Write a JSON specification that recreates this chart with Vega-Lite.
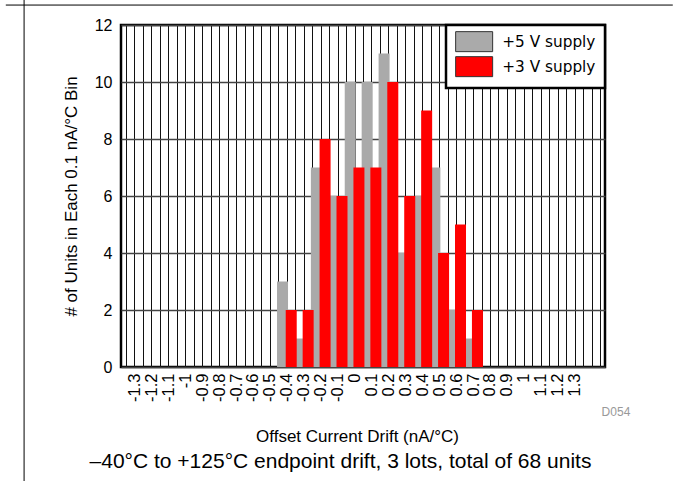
{
  "$schema": "https://vega.github.io/schema/vega-lite/v6.json",
  "autosize": {"type": "none"},
  "padding": {"left": 121, "top": 25, "right": 74, "bottom": 114},
  "width": 484,
  "height": 342,
  "background": "white",
  "config": {
    "font": "Liberation Sans",
    "view": {"stroke": "black", "strokeWidth": 2.5},
    "axis": {"labelFont": "Liberation Sans", "titleFont": "Liberation Sans", "labelColor": "black", "titleColor": "black", "titleFontWeight": "normal"}
  },
  "resolve": {"axis": {"x": "independent", "y": "independent"}},
  "layer": [
    {
      "data": {
        "values": [
          {"drift": -1.3, "supply": "+5 V supply", "count": 0},
          {"drift": -1.2, "supply": "+5 V supply", "count": 0},
          {"drift": -1.1, "supply": "+5 V supply", "count": 0},
          {"drift": -1.0, "supply": "+5 V supply", "count": 0},
          {"drift": -0.9, "supply": "+5 V supply", "count": 0},
          {"drift": -0.8, "supply": "+5 V supply", "count": 0},
          {"drift": -0.7, "supply": "+5 V supply", "count": 0},
          {"drift": -0.6, "supply": "+5 V supply", "count": 0},
          {"drift": -0.5, "supply": "+5 V supply", "count": 0},
          {"drift": -0.4, "supply": "+5 V supply", "count": 3},
          {"drift": -0.3, "supply": "+5 V supply", "count": 1},
          {"drift": -0.2, "supply": "+5 V supply", "count": 7},
          {"drift": -0.1, "supply": "+5 V supply", "count": 6},
          {"drift": 0.0, "supply": "+5 V supply", "count": 10},
          {"drift": 0.1, "supply": "+5 V supply", "count": 10},
          {"drift": 0.2, "supply": "+5 V supply", "count": 11},
          {"drift": 0.3, "supply": "+5 V supply", "count": 4},
          {"drift": 0.4, "supply": "+5 V supply", "count": 6},
          {"drift": 0.5, "supply": "+5 V supply", "count": 7},
          {"drift": 0.6, "supply": "+5 V supply", "count": 2},
          {"drift": 0.7, "supply": "+5 V supply", "count": 1},
          {"drift": 0.8, "supply": "+5 V supply", "count": 0},
          {"drift": 0.9, "supply": "+5 V supply", "count": 0},
          {"drift": 1.0, "supply": "+5 V supply", "count": 0},
          {"drift": 1.1, "supply": "+5 V supply", "count": 0},
          {"drift": 1.2, "supply": "+5 V supply", "count": 0},
          {"drift": 1.3, "supply": "+5 V supply", "count": 0},
          {"drift": -1.3, "supply": "+3 V supply", "count": 0},
          {"drift": -1.2, "supply": "+3 V supply", "count": 0},
          {"drift": -1.1, "supply": "+3 V supply", "count": 0},
          {"drift": -1.0, "supply": "+3 V supply", "count": 0},
          {"drift": -0.9, "supply": "+3 V supply", "count": 0},
          {"drift": -0.8, "supply": "+3 V supply", "count": 0},
          {"drift": -0.7, "supply": "+3 V supply", "count": 0},
          {"drift": -0.6, "supply": "+3 V supply", "count": 0},
          {"drift": -0.5, "supply": "+3 V supply", "count": 0},
          {"drift": -0.4, "supply": "+3 V supply", "count": 2},
          {"drift": -0.3, "supply": "+3 V supply", "count": 2},
          {"drift": -0.2, "supply": "+3 V supply", "count": 8},
          {"drift": -0.1, "supply": "+3 V supply", "count": 6},
          {"drift": 0.0, "supply": "+3 V supply", "count": 7},
          {"drift": 0.1, "supply": "+3 V supply", "count": 7},
          {"drift": 0.2, "supply": "+3 V supply", "count": 10},
          {"drift": 0.3, "supply": "+3 V supply", "count": 6},
          {"drift": 0.4, "supply": "+3 V supply", "count": 9},
          {"drift": 0.5, "supply": "+3 V supply", "count": 4},
          {"drift": 0.6, "supply": "+3 V supply", "count": 5},
          {"drift": 0.7, "supply": "+3 V supply", "count": 2},
          {"drift": 0.8, "supply": "+3 V supply", "count": 0},
          {"drift": 0.9, "supply": "+3 V supply", "count": 0},
          {"drift": 1.0, "supply": "+3 V supply", "count": 0},
          {"drift": 1.1, "supply": "+3 V supply", "count": 0},
          {"drift": 1.2, "supply": "+3 V supply", "count": 0},
          {"drift": 1.3, "supply": "+3 V supply", "count": 0}
        ]
      },
      "encoding": {
        "x": {
          "field": "drift",
          "type": "quantitative",
          "scale": {"domain": [-1.35, 1.45], "nice": false, "zero": false},
          "axis": {
            "title": "Offset Current Drift (nA/°C)",
            "titleFontSize": 17,
            "titlePadding": 27,
            "titleX": 236,
            "values": [-1.35,-1.3,-1.25,-1.2,-1.15,-1.1,-1.05,-1,-0.95,-0.9,-0.85,-0.8,-0.75,-0.7,-0.65,-0.6,-0.55,-0.5,-0.45,-0.4,-0.35,-0.3,-0.25,-0.2,-0.15,-0.1,-0.05,0,0.05,0.1,0.15,0.2,0.25,0.3,0.35,0.4,0.45,0.5,0.55,0.6,0.65,0.7,0.75,0.8,0.85,0.9,0.95,1,1.05,1.1,1.15,1.2,1.25,1.3,1.35,1.4,1.45],
            "labelExpr": "abs(round(datum.value*20)) % 2 == 0 && abs(datum.value) < 1.36 ? replace(format(datum.value, '.1~f'), '\u2212', '-') : ''",
            "labelAngle": 270,
            "labelFontSize": 16.5,
            "labelPadding": 6,
            "labelOverlap": false,
            "labelFlush": false,
            "ticks": false,
            "domain": false,
            "grid": true,
            "gridColor": "#111111",
            "gridWidth": 1,
            "gridOpacity": 1
          }
        },
        "y": {
          "field": "count",
          "type": "quantitative",
          "scale": {"domain": [0, 12], "nice": false},
          "axis": {
            "title": "# of Units in Each 0.1 nA/°C Bin",
            "titleFontSize": 17,
            "titlePadding": 14,
            "values": [0, 2, 4, 6, 8, 10, 12],
            "labelFontSize": 16,
            "labelPadding": 9,
            "ticks": false,
            "domain": false,
            "grid": true,
            "gridColor": "#444444",
            "gridWidth": 1.6,
            "gridOpacity": 1
          }
        },
        "color": {
          "field": "supply",
          "type": "nominal",
          "scale": {"domain": ["+5 V supply", "+3 V supply"], "range": ["#aaaaaa", "#ff0000"]},
          "legend": {
            "title": null,
            "orient": "top-right",
            "offset": 0,
            "padding": 9,
            "fillColor": "white",
            "strokeColor": "black",
            "symbolType": "M-1.4,-2H6V2H-1.4Z",
            "symbolSize": 100,
            "symbolStrokeColor": "#333333",
            "symbolStrokeWidth": 1,
            "symbolOpacity": 1,
            "labelFontSize": 15.3,
            "labelFont": "DejaVu Sans",
            "labelColor": "black",
            "labelOffset": 32,
            "rowPadding": 0,
            "encode": {"legend": {"update": {"strokeWidth": {"value": 2.5}}}}
          }
        }
      },
      "layer": [
        {
          "transform": [{"filter": "datum.supply == '+5 V supply'"}],
          "mark": {"type": "bar", "width": 11, "xOffset": -4.3}
        },
        {
          "transform": [{"filter": "datum.supply == '+3 V supply'"}],
          "mark": {"type": "bar", "width": 11, "xOffset": 4.4}
        }
      ]
    },
    {
      "data": {"values": [{"note": "D054"}]},
      "mark": {"type": "text", "align": "right", "baseline": "middle", "fontSize": 12, "fill": "#999999", "clip": false},
      "encoding": {
        "text": {"field": "note", "type": "nominal"},
        "x": {"datum": 1.629, "type": "quantitative", "axis": null},
        "y": {"datum": -1.58, "type": "quantitative", "axis": null}
      }
    },
    {
      "data": {"values": [{"caption": "–40°C to +125°C endpoint drift, 3 lots, total of 68 units"}]},
      "mark": {"type": "text", "align": "center", "baseline": "middle", "fontSize": 21, "fill": "black", "font": "Liberation Sans", "clip": false},
      "encoding": {
        "text": {"field": "caption", "type": "nominal"},
        "x": {"datum": -0.083, "type": "quantitative", "axis": null},
        "y": {"datum": -3.333, "type": "quantitative", "axis": null}
      }
    },
    {
      "data": {"values": [{"id": 1}]},
      "mark": {"type": "rule", "color": "black", "strokeWidth": 1, "clip": false},
      "encoding": {
        "x": {"datum": -2.06, "type": "quantitative", "axis": null},
        "x2": {"datum": 1.88},
        "y": {"datum": 12.7, "type": "quantitative", "axis": null}
      }
    },
    {
      "data": {"values": [{"id": 1}]},
      "mark": {"type": "rule", "color": "black", "strokeWidth": 1, "clip": false},
      "encoding": {
        "x": {"datum": -1.952, "type": "quantitative", "axis": null},
        "y": {"datum": 12.9, "type": "quantitative", "axis": null},
        "y2": {"datum": -4.05}
      }
    }
  ]
}
